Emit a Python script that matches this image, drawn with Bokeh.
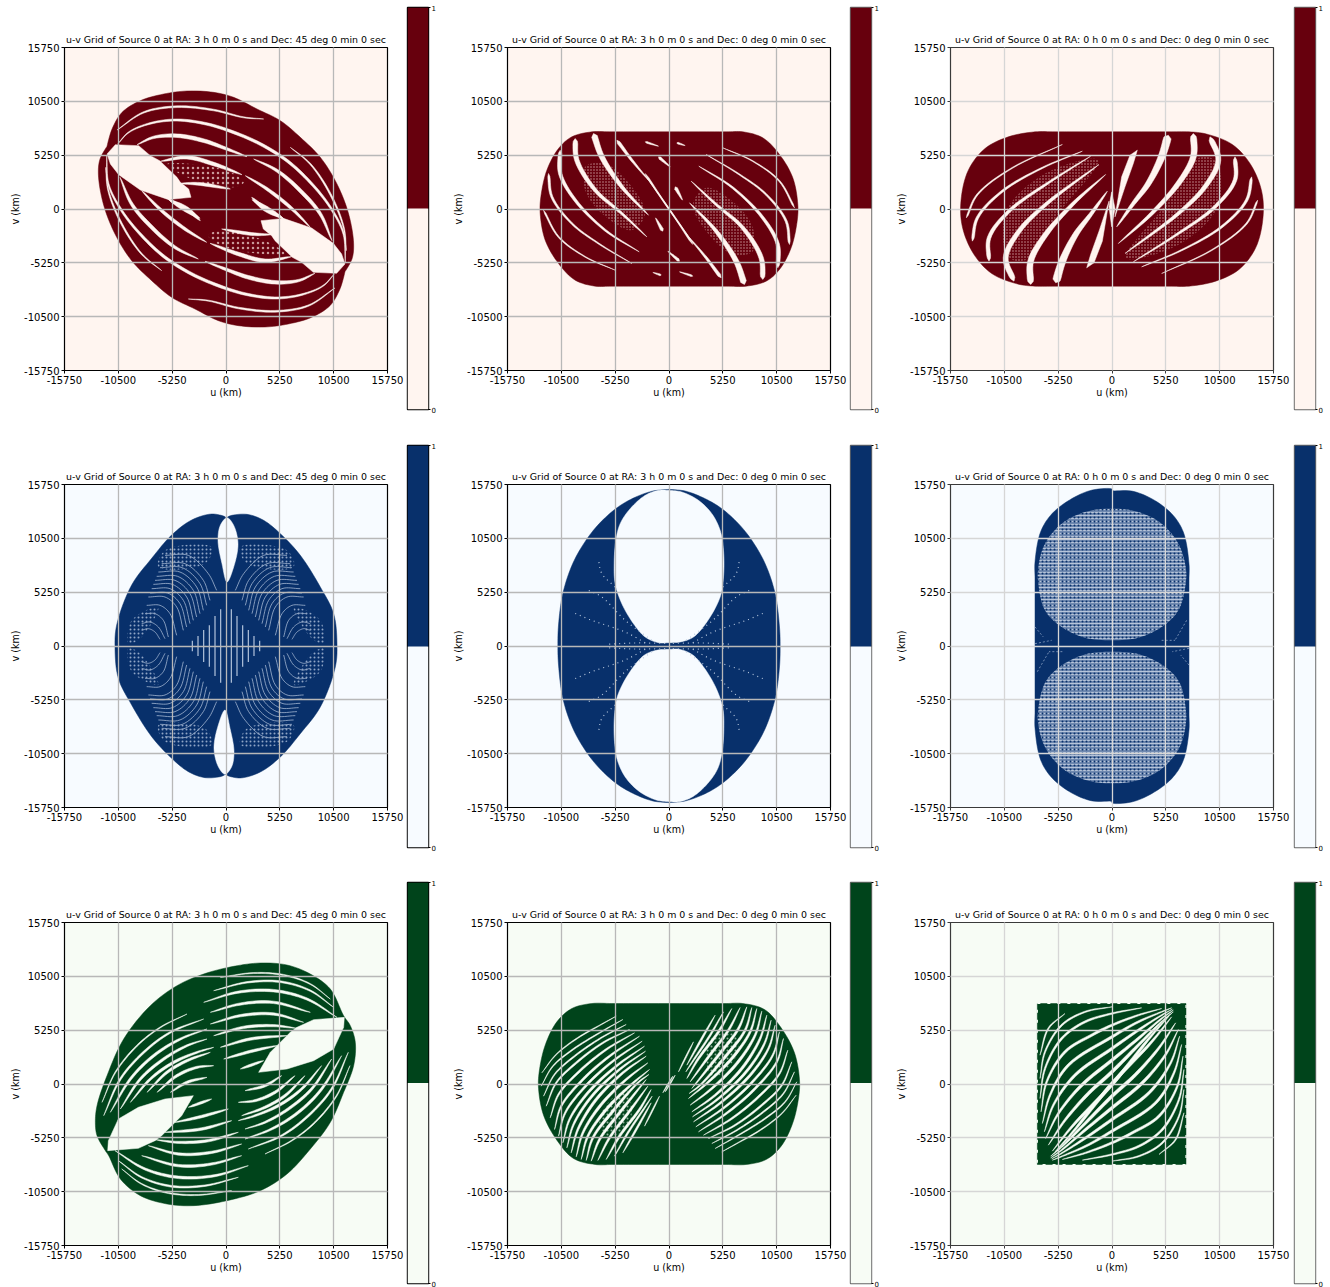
import math

from bokeh.embed import file_html
from bokeh.layouts import column, row
from bokeh.models import FixedTicker, Range1d
from bokeh.plotting import figure
from bokeh.resources import INLINE

TICKS = [-15750, -10500, -5250, 0, 5250, 10500, 15750]
TICK_LABELS = ["-15750", "-10500", "-5250", "0", "5250", "10500", "15750"]
TITLE_A = "u-v Grid of Source 0 at RA: 3 h 0 m 0 s and Dec: 45 deg 0 min 0 sec"
TITLE_B = "u-v Grid of Source 0 at RA: 3 h 0 m 0 s and Dec: 0 deg 0 min 0 sec"
TITLE_C = "u-v Grid of Source 0 at RA: 0 h 0 m 0 s and Dec: 0 deg 0 min 0 sec"

REDS = ("#fff5f0", "#67000d")
BLUES = ("#f7fbff", "#08306b")
GREENS = ("#f7fcf5", "#00441b")

# Outlines, gaps and streaks, in reading units of the
# magnified plot (1 unit = 32.5 km), with each panel's centre given alongside.
R1_O = (677, 625)
R1_OUT = [(320,437),(335,385),(365,335),(420,300),(490,280),(560,271),(640,275),(700,290),(770,325),(840,360),(900,410),(960,470),(1010,550),(1045,640),(1060,730),(1055,775),(1034,813)]
R1_HOLE = [(320,460),(345,432),(415,435),(450,465),(478,480),(530,530),(540,545),(565,565),(572,590),(520,595),(505,597),(420,568),(355,522),(330,490)]
R1_STREAKS = [
 (1.8,[(350,388),(430,335),(530,318),(640,328),(730,350),(790,355)]),
 (2.8,[(352,430),(385,395),(450,368),(530,358),(620,370),(700,395),(780,430),(860,480),(930,545),(990,620),(1030,700),(1035,785)]),
 (1.6,[(870,440),(930,490),(990,580),(1030,680),(1038,750)]),
 (3.6,[(760,475),(830,510),(900,570),(960,640),(995,720)]),
 (3.2,[(735,525),(800,565),(870,620),(930,680)]),
 (4.0,[(755,597),(810,630),(850,655)]),
 (3.8,[(410,432),(460,410),(530,405),(610,420),(680,445),(740,468)]),
 (3.8,[(480,482),(560,470),(640,490),(725,522)]),
 (3.0,[(540,548),(600,550),(690,565)]),
 (4.0,[(505,597),(560,625),(600,660)]),
]
R1_SPECKLE = [(500,490),(680,510),(730,545),(700,560),(560,530)]
R2_O = (671.5, 626.5)
R2_OUT = [(560,395),(500,395),(440,395),(380,410),(340,445),(305,510),(287,590),(285,640),(300,720),(340,790),(390,840),(450,858),(500,858),(560,858)]
R2_STREAKS = [
 (6.0,[(445,400),(470,470),(530,560),(610,645)]),
 (5.0,[(390,415),(395,480),(450,570),(530,640),(605,710)]),
 (3.8,[(345,450),(345,520),(390,600),(480,690),(582,755)]),
 (2.4,[(310,520),(320,590),(380,670),(460,730),(560,790)]),
 (1.6,[(295,630),(340,710),(420,770),(510,810)]),
 (3.4,[(515,420),(560,480),(610,540)]),
 (2.0,[(600,425),(640,438)]),
 (2.0,[(695,428),(720,436)]),
 (3.0,[(640,470),(675,500)]),
 (3.4,[(690,560),(712,600)]),
 (1.6,[(600,520),(670,625),(745,730)]),
]
R2_SPECKLE = [(420,500),(480,490),(560,560),(600,640),(560,690),(470,640),(420,570)]
R3_O = (681, 626.5)
R3_OUT = [(570,395),(510,395),(450,395),(370,410),(300,445),(250,510),(228,600),(232,680),(265,760),(320,820),(400,852),(450,858),(510,858),(570,858)]
R3_STREAKS = [
 (8.0,[(850,405),(830,470),(790,550),(745,610),(695,680)]),
 (6.5,[(925,400),(925,470),(880,550),(800,640),(700,730)]),
 (5.5,[(975,410),(1000,480),(960,560),(880,640),(720,760)]),
 (4.0,[(1050,470),(1050,540),(990,620),(880,700),(745,785)]),
 (2.8,[(1100,530),(1085,600),(1010,680),(890,750),(770,800)]),
 (1.6,[(1118,600),(1085,670),(980,750),(830,820)]),
]
R3_LENS = [(757,450),(735,465),(710,530),(690,650),(720,560),(745,490)]
R3_SLIVER = [(680,575),(672,620),(680,680),(690,625)]
R3_SPECKLE = [(360,640),(480,520),(640,480),(520,640),(420,780),(370,770)]

B1_O = (677, 617)
B1_OUT = [(677,232),(690,226),(740,222),(790,240),(840,280),(900,345),(960,440),(1000,520),(1010,610),(1005,680),(960,800),(900,880),(840,950),(780,995),(720,1013),(680,1005)]
B1_HOLE_UP = [(680,232),(660,255),(653,300),(665,370),(680,425),(700,380),(713,310),(700,255)]
B1_ARCS = [
 [(705,450),(730,400),(790,345),(860,345)],
 [(725,480),(745,420),(800,370),(870,370)],
 [(735,495),(755,430),(808,382),(875,382)],
 [(745,510),(765,440),(815,395),(880,395)],
 [(755,520),(775,450),(822,408),(885,408)],
 [(765,530),(785,460),(830,420),(890,420)],
 [(775,540),(795,470),(838,432),(895,432)],
 [(785,550),(805,480),(845,445),(900,445)],
 [(795,560),(815,490),(852,458),(905,458)],
 [(805,570),(825,500),(860,470),(910,470)],
 [(825,585),(845,520),(875,495),(915,495)],
 [(850,590),(865,540),(890,520),(920,520)],
 [(860,595),(880,560),(905,545),(930,550)],
 [(875,597),(890,575),(910,565),(930,570)],
]
B1_BARS_X = [693,710,727,744,761,778]
B1_BARS_H = [110,90,62,48,30,16]
B1_SPECKLE = [(880,500),(960,540),(970,610),(930,590)]
B1_SPECKLE_TOP = [(720,320),(860,330),(880,380),(740,370)]
B2_O = (671.5, 617)
B2_OUT = [(671,147),(720,152),(780,175),(830,205),(880,250),(920,300),(960,370),(990,460),(1003,560),(1005,617),(1003,680),(990,775),(960,865),(920,935),(880,985),(830,1030),(780,1060),(720,1082),(671,1087)]
B2_HOLE_UP = [(671,150),(640,150),(600,165),(555,205),(525,250),(512,300),(507,370),(510,430),(530,490),(565,550),(600,590),(640,607),(671,607),(705,605),(745,590),(785,545),(825,470),(835,410),(835,330),(825,270),(800,220),(760,180),(710,155)]
B2_RAYS = [
 [(620,600),(540,540),(470,470),(430,450)],
 [(600,607),(540,575),(440,540),(380,515)],
 [(660,609),(570,608),(480,612)],
 [(510,440),(470,400),(460,360)],
]
B3_O = (681, 617)
B3_OUT = [(681,150),(740,152),(800,175),(860,220),(895,275),(912,370),(912,420),(912,500),(912,740),(912,820),(912,870),(895,960),(860,1015),(800,1060),(740,1085),(681,1088)]
B3_DISC = [(681,205),(760,215),(830,250),(880,310),(902,380),(902,430),(880,510),(830,560),(760,592),(681,600),(600,592),(530,560),(480,510),(460,430),(460,380),(480,310),(530,250),(600,215)]
B3_NICKS = [[(450,610),(500,600)],[(450,560),(475,590)],[(905,540),(870,600)],[(830,600),(870,600)]]

G1_O = (677, 625)
G1_OUT = [(1030,420),(1050,450),(1065,500),(1060,570),(1030,650),(990,740),(930,820),(860,895),(780,945),(680,975),(580,990),(500,985),(420,960),(360,910),(325,840),(315,825),(290,780),(285,740),(290,690),(320,600),(370,490),(450,390),(530,330),(610,295),(700,272),(780,262),(860,268),(930,295),(990,340)]
G1_HOLE = [(940,432),(1032,425),(1030,455),(1000,520),(940,555),(860,580),(775,590),(810,530),(840,500),(870,470),(890,455)]
G1_STREAKS = [
 (1.2,[(305,680),(345,590),(410,510),(480,455),(560,415)]),
 (2.0,[(310,720),(360,610),(430,530),(510,470),(610,430)]),
 (2.6,[(330,710),(390,610),(460,540),(540,490),(620,460)]),
 (2.6,[(360,700),(420,610),(490,550),(560,510),(620,490)]),
 (2.6,[(390,680),(450,610),(520,560),(590,530),(640,515)]),
 (2.6,[(440,650),(500,590),(560,555),(630,530)]),
 (2.6,[(470,650),(530,600),(590,575),(640,570)]),
 (2.4,[(510,650),(560,620),(620,605)]),
 (1.2,[(660,305),(760,292),(850,298),(930,325),(990,370)]),
 (1.8,[(640,345),(740,320),(840,318),(930,345),(1000,395)]),
 (2.6,[(610,380),(710,350),(820,345),(920,370),(1010,425)]),
 (2.6,[(630,410),(720,385),(820,380),(930,410)]),
 (2.6,[(630,445),(720,420),(820,415),(910,440)]),
 (2.6,[(640,480),(730,455),(820,450),(890,458)]),
 (2.6,[(660,515),(750,490),(860,480)]),
 (2.6,[(670,550),(760,525),(830,510)]),
 (2.4,[(720,580),(790,555)]),
]
G2_O = (671.5, 626.5)
G2_OUT = [(560,385),(500,385),(440,385),(380,400),(335,440),(300,510),(282,590),(280,640),(295,720),(335,795),(385,850),(450,868),(500,868),(560,868)]
G2_STREAKS = [
 (1.8,[(810,420),(770,490),(725,570)]),
 (1.8,[(835,410),(795,480),(745,555),(722,590)]),
 (2.4,[(860,400),(820,470),(760,550),(725,610)]),
 (2.4,[(885,397),(850,465),(790,545),(735,620)]),
 (2.6,[(905,395),(880,460),(820,540),(740,640)]),
 (2.6,[(920,397),(900,465),(840,545),(765,630),(732,655)]),
 (2.6,[(935,400),(915,470),(860,550),(790,620),(730,670)]),
 (2.6,[(950,408),(930,480),(875,565),(800,640),(735,690)]),
 (2.6,[(965,420),(945,490),(890,580),(810,660),(740,710)]),
 (2.4,[(978,435),(958,505),(903,590),(820,670),(742,725)]),
 (2.4,[(990,450),(970,520),(915,600),(830,680),(745,740)]),
 (2.2,[(1003,470),(983,540),(922,620),(840,695),(752,755)]),
 (2.2,[(1015,490),(995,560),(930,640),(850,710),(760,770)]),
 (2.0,[(1028,525),(1003,595),(940,665),(860,730),(775,780)]),
 (1.8,[(1040,560),(1010,630),(950,690),(870,750),(790,790)]),
 (1.4,[(1048,590),(1015,655),(955,710),(875,765),(800,805)]),
 (1.2,[(1055,620),(1020,680),(960,730),(880,780),(810,820)]),
 (1.0,[(1053,660),(1010,715),(945,765),(875,805),(830,830)]),
 (1.2,[(745,500),(700,590)]),
 (1.0,[(690,600),(660,650)]),
]
G2_SPECKLE = [(790,500),(860,470),(880,530),(800,610)]
G3_O = (681, 626.5)
G3_SQUARE = [(457,385),(903,385),(903,868),(457,868),(457,385)]
G3_STREAKS = [
 (3.2,[(510,830),(560,775),(681,625),(800,500),(860,425)]),
 (3.2,[(490,810),(540,735),(610,655),(681,590),(760,510),(830,440),(865,410)]),
 (3.0,[(482,790),(520,715),(590,630),(681,555),(760,490),(830,430),(865,405)]),
 (2.8,[(478,770),(505,690),(570,600),(681,520),(760,465),(830,420),(862,402)]),
 (2.6,[(472,745),(495,660),(550,570),(681,485),(760,440),(830,410),(860,398)]),
 (2.4,[(468,710),(485,620),(540,530),(620,480),(681,450),(760,420),(830,400)]),
 (2.0,[(465,670),(480,580),(530,490),(600,440),(681,415),(770,398)]),
 (1.6,[(465,610),(480,530),(530,450),(600,410),(681,395)]),
 (1.2,[(465,540),(490,460),(540,415)]),
]
SCALE = 32.5
KM_PER_PX = 97.5


def km(pts, o):
    return [(x - o[0]) * SCALE for x, y in pts], [(o[1] - y) * SCALE for x, y in pts]


def flip(pts, o):
    return [(2 * o[0] - x, 2 * o[1] - y) for x, y in pts]


def xflip(pts, o):
    return [(2 * o[0] - x, y) for x, y in pts]


def yflip(pts, o):
    return [(x, 2 * o[1] - y) for x, y in pts]


def smooth(pts, closed=False, n=8):
    """Centripetal Catmull-Rom rendering of a traced polyline."""
    N = len(pts)
    if N < 3:
        a, b = pts[0], pts[-1]
        return [(a[0] + (b[0] - a[0]) * k / n, a[1] + (b[1] - a[1]) * k / n) for k in range(n + 1)]
    out = []
    last = N if closed else N - 1
    for i in range(last):
        if closed:
            p0, p1, p2, p3 = pts[(i - 1) % N], pts[i], pts[(i + 1) % N], pts[(i + 2) % N]
        else:
            p1, p2 = pts[i], pts[i + 1]
            p0 = pts[i - 1] if i > 0 else (2 * p1[0] - p2[0], 2 * p1[1] - p2[1])
            p3 = pts[i + 2] if i + 2 < N else (2 * p2[0] - p1[0], 2 * p2[1] - p1[1])
        t0 = 0.0
        t1 = t0 + max(math.dist(p0, p1), 1e-6) ** 0.5
        t2 = t1 + max(math.dist(p1, p2), 1e-6) ** 0.5
        t3 = t2 + max(math.dist(p2, p3), 1e-6) ** 0.5
        for k in range(n):
            t = t1 + (t2 - t1) * k / n
            def mix(a, b, ta, tb):
                w = (t - ta) / (tb - ta)
                return (a[0] + (b[0] - a[0]) * w, a[1] + (b[1] - a[1]) * w)
            a1 = mix(p0, p1, t0, t1)
            a2 = mix(p1, p2, t1, t2)
            a3 = mix(p2, p3, t2, t3)
            b1 = mix(a1, a2, t0, t2)
            b2 = mix(a2, a3, t1, t3)
            out.append(mix(b1, b2, t1, t2))
    if not closed:
        out.append(pts[-1])
    return out


def ribbon(pts, width, mode):
    line = smooth(pts)
    total = 0.0
    lens = [0.0]
    for a, b in zip(line, line[1:]):
        total += math.dist(a, b)
        lens.append(total)
    left, right = [], []
    half_unit = width * KM_PER_PX / SCALE / 2
    for i, (x, y) in enumerate(line):
        a = line[max(i - 1, 0)]
        b = line[min(i + 1, len(line) - 1)]
        dx, dy = b[0] - a[0], b[1] - a[1]
        d = math.hypot(dx, dy) or 1.0
        t = lens[i] / total
        if mode == "wedge":
            f = min(1.0, t / 0.03) ** 0.5 * (1 - t) ** 0.6
        else:
            f = math.sin(math.pi * t) ** 0.6
        h = half_unit * f
        left.append((x - dy / d * h, y + dx / d * h))
        right.append((x + dy / d * h, y - dx / d * h))
    return left + right[::-1]


def shapes(p, polys, o, color, curved=False):
    xs, ys = [], []
    for poly in polys:
        x, y = km(smooth(poly, closed=True) if curved else poly, o)
        xs.append(x)
        ys.append(y)
    p.patches(xs, ys, fill_color=color, line_color=color, line_width=0.5)


def streaks(p, items, o, color, mode="lens"):
    polys = []
    for w, pts in items:
        polys.append(ribbon(pts, w, mode))
        polys.append(ribbon(flip(pts, o), w, mode))
    shapes(p, polys, o, color)


def thin(p, lines, o, color, width, dash="solid"):
    xs, ys = [], []
    for ln in lines:
        x, y = km(smooth(ln), o)
        xs.append(x)
        ys.append(y)
    p.multi_line(xs=xs, ys=ys, line_width=width, line_color=color, line_dash=dash)


def speckle(p, polys, o, color, scale=3, weight=0.5):
    xs, ys = [], []
    for poly in polys:
        x, y = km(smooth(poly, closed=True), o)
        xs.append(x)
        ys.append(y)
    p.patches(xs, ys, fill_alpha=0, line_color=None, hatch_pattern="dot", hatch_color=color,
              hatch_scale=scale, hatch_weight=weight)


def panel(title, colors, col, rw):
    lefts = [64, 62, 62]
    rights = [18, 18, 18]
    tops = [47, 49, 50]
    bottoms = [65, 65, 42]
    p = figure(frame_width=323, frame_height=323, x_range=Range1d(-15750, 15750), y_range=Range1d(-15750, 15750),
               output_backend="svg", toolbar_location=None, title=title, frame_align=False,
               min_border_left=lefts[col], min_border_right=rights[col],
               min_border_top=tops[rw], min_border_bottom=bottoms[rw],
               x_axis_label="u (km)", y_axis_label="v (km)")
    p.background_fill_color = colors[0]
    p.border_fill_color = "white"
    dim = col == 2
    spine = "#3a3a3a" if dim else "black"
    p.outline_line_color = spine
    p.outline_line_width = 1.2
    p.title.text_font = "DejaVu Sans"
    p.title.text_font_size = "9.45px"
    p.title.text_font_style = "normal"
    p.title.text_color = "black"
    p.title.align = "center"
    p.title.offset = 0
    p.title.standoff = 5
    for ax in (p.xaxis[0], p.yaxis[0]):
        ax.ticker = FixedTicker(ticks=TICKS)
        ax.major_label_overrides = {t: l for t, l in zip(TICKS, TICK_LABELS)}
        ax.major_label_text_font = "DejaVu Sans"
        ax.major_label_text_font_size = "10px"
        ax.major_label_text_color = "black"
        ax.axis_label_text_font = "DejaVu Sans"
        ax.axis_label_text_font_size = "9.6px"
        ax.axis_label_text_font_style = "normal"
        ax.axis_label_text_color = "black"
        ax.axis_line_color = spine
        ax.major_tick_line_color = spine
        ax.major_tick_in = 0
        ax.major_tick_out = 3
        ax.minor_tick_line_color = None
        ax.major_label_standoff = 2
        ax.axis_label_standoff = 0
        ax.major_label_orientation = "horizontal"
    for g in p.grid:
        g.grid_line_color = "#d6d6d6" if dim else "#b8b8b8"
        g.grid_line_width = 1.3
        g.level = "overlay"
    return p


def colorbar(colors, col, rw):
    lefts = [2, 2, 3]
    rights = [17, 17, 14]
    tops = [7, 10, 10]
    bottoms = [26, 25, 4]
    heights = [402, 402, 401]
    c = figure(frame_width=21, frame_height=heights[rw], x_range=Range1d(0, 1), y_range=Range1d(0, 1),
               output_backend="svg", toolbar_location=None, y_axis_location="right", frame_align=False,
               min_border_left=lefts[col], min_border_right=rights[col],
               min_border_top=tops[rw], min_border_bottom=bottoms[rw])
    c.xaxis.visible = False
    c.grid.visible = False
    c.quad(left=[0, 0], right=[1, 1], bottom=[0, 0.5], top=[0.5, 1], fill_color=list(colors), line_color=None)
    c.outline_line_color = "#666666" if col else "black"
    c.outline_line_width = 1.4
    ax = c.yaxis[0]
    ax.ticker = FixedTicker(ticks=[0, 1])
    ax.major_label_text_font = "DejaVu Sans"
    ax.major_label_text_font_size = "7px"
    ax.major_label_text_color = "black"
    ax.minor_tick_line_color = None
    ax.major_tick_in = 0
    ax.major_tick_out = 2
    ax.major_label_standoff = 1
    ax.axis_line_color = None
    return c


RED_DOT = "#c99a9a"
BLUE_DOT = "#8fa5c5"
GREEN_DOT = "#8fb09b"

# ---- Reds
pa = panel(TITLE_A, REDS, 0, 0)
shapes(pa, [R1_OUT + flip(R1_OUT, R1_O)], R1_O, REDS[1], curved=True)
speckle(pa, [R1_SPECKLE, flip(R1_SPECKLE, R1_O)], R1_O, RED_DOT, scale=5)
shapes(pa, [R1_HOLE, flip(R1_HOLE, R1_O)], R1_O, REDS[0])
streaks(pa, R1_STREAKS, R1_O, REDS[0])

pb = panel(TITLE_B, REDS, 1, 0)
shapes(pb, [R2_OUT + flip(R2_OUT, R2_O)], R2_O, REDS[1], curved=True)
speckle(pb, [R2_SPECKLE, flip(R2_SPECKLE, R2_O)], R2_O, RED_DOT)
streaks(pb, R2_STREAKS, R2_O, REDS[0], mode="wedge")

pc = panel(TITLE_C, REDS, 2, 0)
shapes(pc, [R3_OUT + flip(R3_OUT, R3_O)], R3_O, REDS[1], curved=True)
speckle(pc, [R3_SPECKLE, flip(R3_SPECKLE, R3_O)], R3_O, RED_DOT)
shapes(pc, [R3_LENS, flip(R3_LENS, R3_O), R3_SLIVER], R3_O, REDS[0])
streaks(pc, R3_STREAKS, R3_O, REDS[0], mode="wedge")

# ---- Blues
pd = panel(TITLE_A, BLUES, 0, 1)
shapes(pd, [B1_OUT + flip(B1_OUT, B1_O)], B1_O, BLUES[1], curved=True)
shapes(pd, [B1_HOLE_UP, flip(B1_HOLE_UP, B1_O)], B1_O, BLUES[0], curved=True)
arcs = []
for a in B1_ARCS:
    arcs += [a, xflip(a, B1_O), yflip(a, B1_O), flip(a, B1_O)]
thin(pd, arcs, B1_O, "#a3b6d2", 0.8)
bars = [[(x, 617 - h), (x, 617 + h)] for x, h in zip(B1_BARS_X, B1_BARS_H)]
bars += [xflip(b, B1_O) for b in bars]
thin(pd, bars, B1_O, "#b3c4dc", 1.2)
dots = []
for s in (B1_SPECKLE, B1_SPECKLE_TOP):
    dots += [s, xflip(s, B1_O), yflip(s, B1_O), flip(s, B1_O)]
speckle(pd, dots, B1_O, BLUE_DOT, scale=4)

pe = panel(TITLE_B, BLUES, 1, 1)
shapes(pe, [B2_OUT + flip(B2_OUT, B2_O)], B2_O, BLUES[1], curved=True)
shapes(pe, [B2_HOLE_UP, flip(B2_HOLE_UP, B2_O)], B2_O, BLUES[0], curved=True)
rays = []
for r in B2_RAYS:
    rays += [r, xflip(r, B2_O), yflip(r, B2_O), flip(r, B2_O)]
thin(pe, rays, B2_O, "#b8c8de", 1.2, dash="1 4")

pf = panel(TITLE_C, BLUES, 2, 1)
shapes(pf, [B3_OUT + flip(B3_OUT, B3_O)], B3_O, BLUES[1], curved=True)
for poly in (B3_DISC, flip(B3_DISC, B3_O)):
    x, y = km(smooth(poly, closed=True), B3_O)
    pf.patch(x, y, fill_color="#6f89b0", line_color=None, hatch_pattern="horizontal_line",
             hatch_color="#d5dfed", hatch_scale=3, hatch_weight=0.7)
    pf.patch(x, y, fill_alpha=0, line_color=None, hatch_pattern="dot",
             hatch_color=BLUES[1], hatch_scale=4, hatch_weight=0.5)
thin(pf, B3_NICKS + [flip(n, B3_O) for n in B3_NICKS], B3_O, "#8fa5c5", 0.8, dash="2 2")

# ---- Greens
pg = panel(TITLE_A, GREENS, 0, 2)
shapes(pg, [G1_OUT], G1_O, GREENS[1], curved=True)
shapes(pg, [G1_HOLE, flip(G1_HOLE, G1_O)], G1_O, GREENS[0])
streaks(pg, G1_STREAKS, G1_O, GREENS[0])

ph = panel(TITLE_B, GREENS, 1, 2)
shapes(ph, [G2_OUT + flip(G2_OUT, G2_O)], G2_O, GREENS[1], curved=True)
speckle(ph, [G2_SPECKLE, flip(G2_SPECKLE, G2_O)], G2_O, GREEN_DOT, scale=4)
streaks(ph, G2_STREAKS, G2_O, GREENS[0])

pi = panel(TITLE_C, GREENS, 2, 2)
shapes(pi, [G3_SQUARE[:4]], G3_O, GREENS[1])
x3, y3 = km(G3_SQUARE, G3_O)
pi.line(x3, y3, line_color=GREENS[0], line_width=1.2, line_dash="3 7")
streaks(pi, G3_STREAKS, G3_O, GREENS[0])

rows = []
grid = [(pa, pb, pc, REDS), (pd, pe, pf, BLUES), (pg, ph, pi, GREENS)]
for rw, (a, b, c, colors) in enumerate(grid):
    rows.append(row(a, colorbar(colors, 0, rw), b, colorbar(colors, 1, rw), c, colorbar(colors, 2, rw), spacing=0))
page = column(*rows, spacing=0)
open("out.html", "w").write(file_html(page, INLINE))
